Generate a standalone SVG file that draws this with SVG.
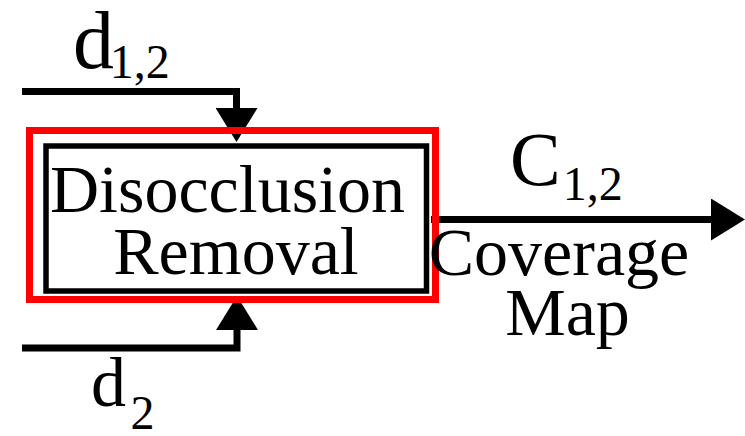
<svg xmlns="http://www.w3.org/2000/svg" width="745" height="436" viewBox="0 0 745 436">
  <style>
    text { font-family: 'Liberation Serif', 'Times New Roman', serif; fill: #000; }
    .wire { fill: none; stroke: #000; stroke-width: 7; stroke-linejoin: miter; }
    .frame { fill: none; stroke: #000; stroke-width: 5.5; }
    .focus { fill: none; stroke: #ff0000; stroke-width: 7; }
  </style>
  <defs>
    <marker id="arrow" viewBox="0 0 34 42" markerWidth="34" markerHeight="42" refX="4" refY="21" orient="auto" markerUnits="userSpaceOnUse">
      <path d="M0,0 L34,21 L0,42 Z" fill="#000"/>
    </marker>
  </defs>

  <!-- inputs and output wires -->
  <g id="connectors">
    <path class="wire" d="M22,91.5 H236.5 V112" marker-end="url(#arrow)"/>
    <path class="wire" d="M22,348 H237 V326" marker-end="url(#arrow)"/>
    <path class="wire" d="M431,219.5 H715" marker-end="url(#arrow)"/>
  </g>

  <!-- processing block with highlight frame -->
  <g id="disocclusion-removal">
    <rect class="frame" x="46" y="146" width="380.5" height="145"/>
    <rect class="focus" x="29.5" y="130.5" width="406" height="169"/>
    <text font-size="68" text-anchor="middle">
      <tspan x="236" y="212">Disocclusion</tspan>
      <tspan x="236" y="274">Removal</tspan>
    </text>
  </g>

  <g id="labels">
    <text font-size="82"><tspan x="73" y="68">d</tspan><tspan x="109.7" y="78" font-size="48">1,2</tspan></text>
    <text font-size="76"><tspan x="510" y="185">C</tspan><tspan x="562.7" y="200" font-size="48">1,2</tspan></text>
    <text font-size="70"><tspan x="91" y="406">d</tspan><tspan x="130.5" y="429" font-size="48">2</tspan></text>
    <text font-size="68" text-anchor="middle">
      <tspan x="567.5" y="275">Coverage</tspan>
      <tspan x="567.5" y="335">Map</tspan>
    </text>
  </g>
</svg>
